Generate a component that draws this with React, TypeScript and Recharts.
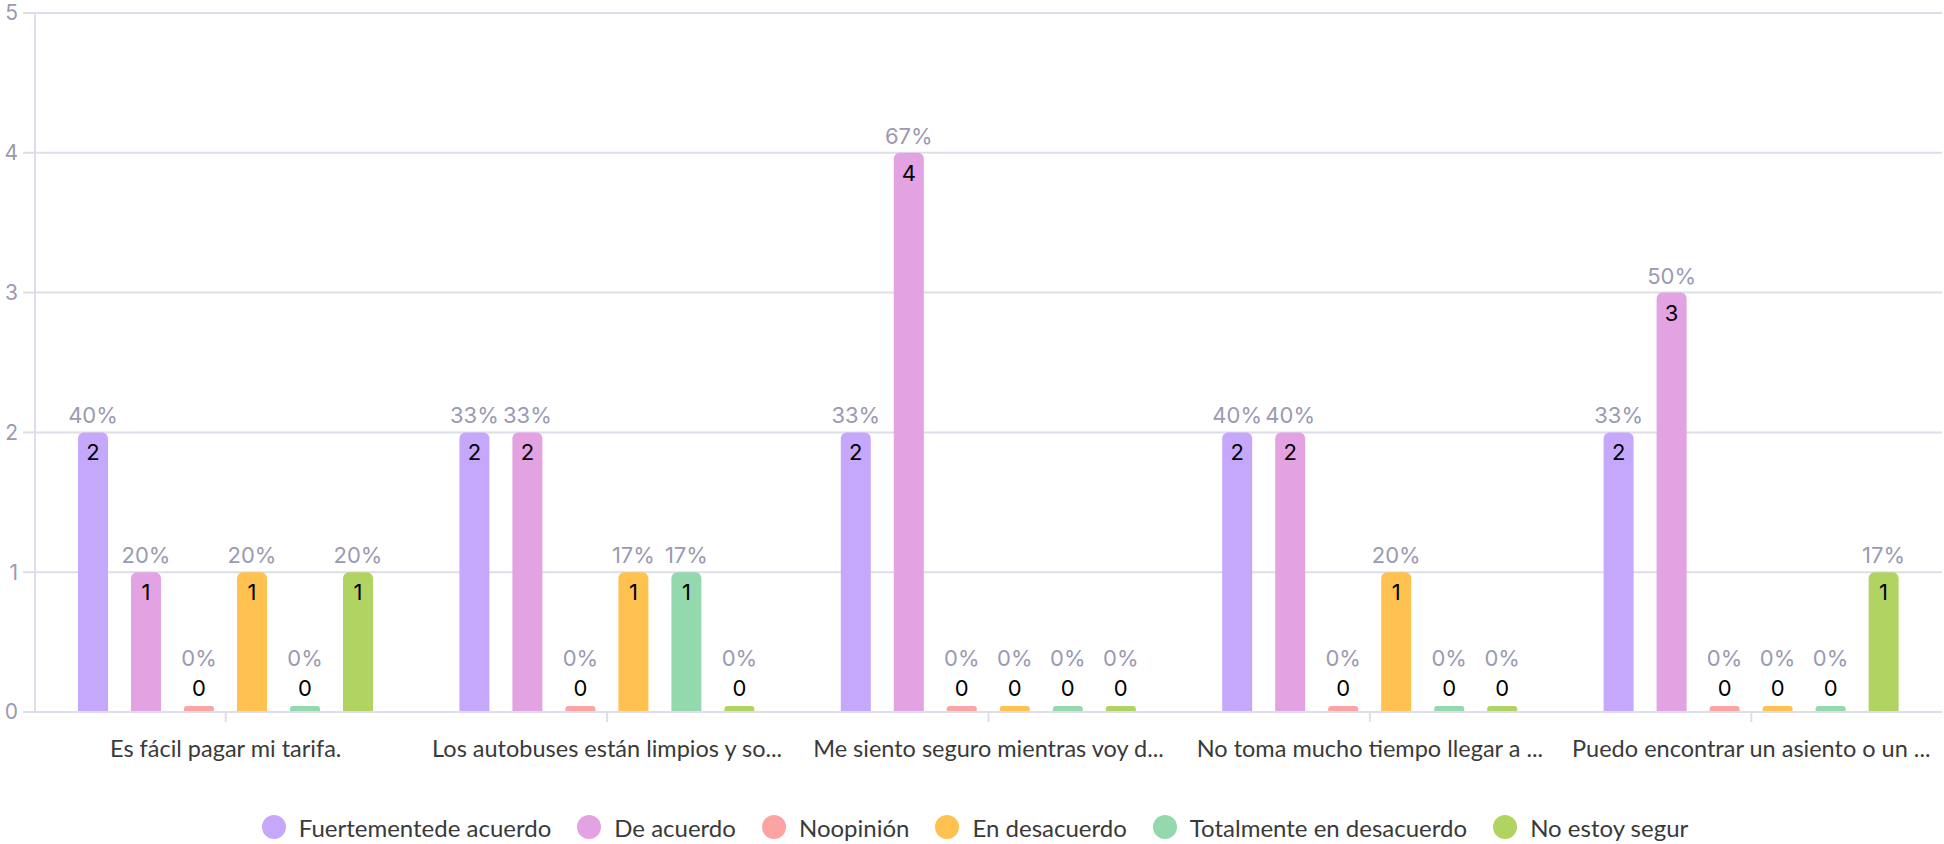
import React from 'react';
import { BarChart, Bar, XAxis, YAxis, CartesianGrid, Legend, LabelList } from 'recharts';

// survey answers per statement (counts)
const categories = [
  'Es fácil pagar mi tarifa.',
  'Los autobuses están limpios y so...',
  'Me siento seguro mientras voy d...',
  'No toma mucho tiempo llegar a ...',
  'Puedo encontrar un asiento o un ...',
];
const fuertemente = [2, 2, 2, 2, 2];
const deAcuerdo = [1, 2, 4, 2, 3];
const noOpinion = [0, 0, 0, 0, 0];
const enDesacuerdo = [1, 1, 0, 1, 0];
const totalmente = [0, 1, 0, 0, 0];
const noEstoy = [1, 0, 0, 0, 1];
const yTicks = [0, 1, 2, 3, 4, 5];

const series = [
  { key: 'fuertemente', name: 'Fuertementede acuerdo', color: '#c5a8fc', values: fuertemente },
  { key: 'deAcuerdo', name: 'De acuerdo', color: '#e3a2e2', values: deAcuerdo },
  { key: 'noOpinion', name: 'Noopinión', color: '#fca3a3', values: noOpinion },
  { key: 'enDesacuerdo', name: 'En desacuerdo', color: '#ffc251', values: enDesacuerdo },
  { key: 'totalmente', name: 'Totalmente en desacuerdo', color: '#93d9ad', values: totalmente },
  { key: 'noEstoy', name: 'No estoy segur', color: '#b1d362', values: noEstoy },
];

const data = categories.map((name, i) => {
  const row: Record<string, string | number> = { name };
  series.forEach((s) => { row[s.key] = s.values[i]; });
  return row;
});
const totals = categories.map((_, i) => series.reduce((acc, s) => acc + s.values[i], 0));

const gridColor = '#dedee9';
const mutedText = '#9a9ab2';
const numFont = 'Inter, "Noto Sans", sans-serif';
const textFont = 'Lato, "Noto Sans", sans-serif';

function BarLabel(props: any) {
  const { x, y, width, value, index } = props;
  const cx = x + width / 2;
  const pct = Math.round((value / totals[index]) * 100) + '%';
  if (value === 0) {
    return (
      <g fontFamily={numFont} fontSize={22} textAnchor="middle">
        <text x={cx} y={y - 40} fill={mutedText}>{pct}</text>
        <text x={cx} y={y - 10} fill="#000">{value}</text>
      </g>
    );
  }
  return (
    <g fontFamily={numFont} fontSize={22} textAnchor="middle">
      <text x={cx} y={y - 9} fill={mutedText}>{pct}</text>
      <text x={cx} y={y + 28} fill="#000">{value}</text>
    </g>
  );
}

function LegendContent() {
  return (
    <div style={{ display: 'flex', justifyContent: 'center', alignItems: 'center', height: 34, paddingLeft: 32, fontFamily: textFont, fontSize: 24, color: '#3a3a3a' }}>
      {series.map((s) => (
        <div key={s.key} style={{ display: 'flex', alignItems: 'center', marginRight: 26 }}>
          <span style={{ width: 24, height: 24, borderRadius: 12, background: s.color, marginRight: 13, display: 'inline-block' }} />
          <span>{s.name}</span>
        </div>
      ))}
    </div>
  );
}

export default function App() {
  return (
    <div style={{ position: 'absolute', left: 0, top: 0, background: '#fff' }}>
      <BarChart
        width={1944}
        height={844}
        data={data}
        margin={{ top: 13, right: 2, left: 0, bottom: 38 }}
        barGap={23}
        barSize={30}
      >
        <CartesianGrid stroke={gridColor} strokeWidth={2} vertical={false} />
        <XAxis
          dataKey="name"
          interval={0}
          stroke={gridColor}
          strokeWidth={2}
          tickSize={10}
          tickMargin={18}
          height={60}
          tick={{ fill: '#3a3a3a', fontSize: 23.5, fontFamily: textFont }}
        />
        <YAxis
          domain={[0, 5]}
          ticks={yTicks}
          width={35}
          stroke={gridColor}
          strokeWidth={2}
          tickSize={12}
          tickMargin={5}
          tick={{ fill: mutedText, fontSize: 21, fontFamily: numFont }}
        />
        <Legend verticalAlign="bottom" content={<LegendContent />} wrapperStyle={{ left: 0, width: 1944, bottom: 0 }} />
        {series.map((s) => (
          <Bar
            key={s.key}
            dataKey={s.key}
            name={s.name}
            fill={s.color}
            radius={[6, 6, 0, 0]}
            minPointSize={6}
            isAnimationActive={false}
          >
            <LabelList dataKey={s.key} content={<BarLabel />} />
          </Bar>
        ))}
      </BarChart>
    </div>
  );
}
